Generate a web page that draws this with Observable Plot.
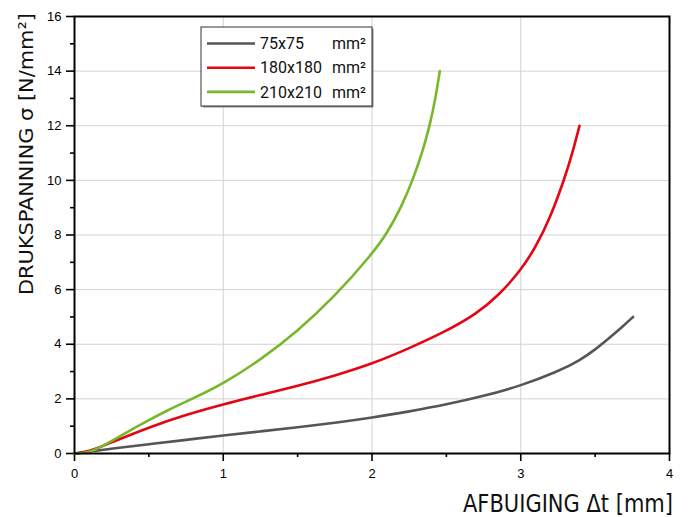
<!DOCTYPE html>
<html>
<head>
<meta charset="utf-8">
<script src="https://cdn.jsdelivr.net/npm/d3@7"></script>
<script src="https://cdn.jsdelivr.net/npm/@observablehq/plot@0.6"></script>
<style>
  html, body { margin: 0; padding: 0; background: white; }
</style>
</head>
<body>
<div id="chart"></div>
<script>
// ---- data ----
const seriesNames = ["75x75", "180x180", "210x210"];
const seriesColors = ["#555555", "#e30613", "#76b82a"];

const grayX = [0, 0.134, 0.25, 0.5, 0.75, 1, 1.25, 1.5, 1.75, 2, 2.25, 2.5, 2.75, 3, 3.25, 3.4, 3.5, 3.6, 3.68, 3.755];
const grayY = [0, 0.09, 0.18, 0.34, 0.5, 0.66, 0.81, 0.96, 1.12, 1.31, 1.54, 1.79, 2.1, 2.48, 3.0, 3.42, 3.8, 4.25, 4.62, 5.0];

const redX = [0, 0.06, 0.134, 0.25, 0.5, 0.75, 1, 1.25, 1.5, 1.75, 2, 2.25, 2.5, 2.7, 2.85, 3.0, 3.1, 3.2, 3.3, 3.35, 3.395];
const redY = [0, 0.04, 0.15, 0.41, 0.96, 1.42, 1.8, 2.14, 2.47, 2.85, 3.28, 3.85, 4.48, 5.1, 5.78, 6.7, 7.55, 8.65, 10.15, 11.05, 12.0];

const greenX = [0, 0.07, 0.13, 0.25, 0.375, 0.5, 0.625, 0.75, 0.875, 1, 1.25, 1.5, 1.75, 2, 2.1, 2.2, 2.28, 2.34, 2.39, 2.425, 2.456];
const greenY = [0, 0.015, 0.1, 0.45, 0.85, 1.22, 1.58, 1.9, 2.22, 2.56, 3.42, 4.48, 5.75, 7.3, 8.05, 9.05, 10.1, 11.05, 12.05, 12.95, 14.0];

const xTicks = [0, 1, 2, 3, 4];
const xMinorTicks = [0.5, 1.5, 2.5, 3.5];
const xGridTicks = [1, 2, 3];
const yTicks = [0, 2, 4, 6, 8, 10, 12, 14, 16];
const yMinorTicks = [1, 3, 5, 7, 9, 11, 13, 15];
const yGridTicks = [2, 4, 6, 8, 10, 12, 14];

const xTitle = "AFBUIGING Δt [mm]";
const yTitle = "DRUKSPANNING σ [N/mm²]";
const legendLabels = ["75x75", "180x180", "210x210"];
const legendUnit = "mm²";

// ---- build table ----
const seriesXs = [grayX, redX, greenX];
const seriesYs = [grayY, redY, greenY];
const rows = [];
seriesNames.forEach((name, i) => {
  seriesXs[i].forEach((x, j) => rows.push({series: name, x, y: seriesYs[i][j]}));
});

const W = 689, H = 517;
const mL = 74, mR = 20, mT = 16, mB = 64;

const chart = Plot.plot({
  width: W, height: H,
  marginLeft: mL, marginRight: mR, marginTop: mT, marginBottom: mB,
  style: {fontFamily: "'Liberation Sans', Arial, sans-serif", fontSize: "13px", color: "black", background: "white"},
  x: {domain: [0, 4]},
  y: {domain: [0, 16]},
  color: {domain: seriesNames, range: seriesColors},
  marks: [
    Plot.gridX(xGridTicks, {stroke: "#d2d2d2", strokeOpacity: 1, strokeWidth: 1}),
    Plot.gridY(yGridTicks, {stroke: "#d2d2d2", strokeOpacity: 1, strokeWidth: 1}),
    Plot.axisX({ticks: xMinorTicks, tickSize: 4, tickFormat: () => "", label: null, strokeWidth: 1.6}),
    Plot.axisX({ticks: xTicks, tickSize: 8, tickPadding: 7, label: null, strokeWidth: 1.6, tickFormat: d3.format("d")}),
    Plot.axisY({ticks: yMinorTicks, tickSize: 4, tickFormat: () => "", label: null, strokeWidth: 1.6}),
    Plot.axisY({ticks: yTicks, tickSize: 8, tickPadding: 5, label: null, strokeWidth: 1.6, tickFormat: d3.format("d")}),
    Plot.line(rows, {x: "x", y: "y", z: "series", stroke: "series", strokeWidth: 2.6, curve: "basis"}),
    Plot.frame({stroke: "black", strokeWidth: 2})
  ]
});

document.getElementById("chart").appendChild(chart);

// ---- axis titles and legend ----
const svg = d3.select(chart);
const condensed = "'DejaVu Sans Condensed', 'Liberation Sans Narrow', 'DejaVu Sans', sans-serif";

svg.append("text")
  .attr("x", W - 16).attr("y", H - 5)
  .attr("text-anchor", "end")
  .attr("font-family", condensed)
  .attr("font-stretch", "condensed")
  .attr("font-size", 24)
  .attr("fill", "#111")
  .attr("textLength", 210)
  .attr("lengthAdjust", "spacingAndGlyphs")
  .text(xTitle);

svg.append("text")
  .attr("transform", `translate(33, ${mT + 279}) rotate(-90)`)
  .attr("text-anchor", "start")
  .attr("font-family", condensed)
  .attr("font-stretch", "condensed")
  .attr("font-size", 20)
  .attr("fill", "#111")
  .attr("textLength", 282)
  .attr("lengthAdjust", "spacingAndGlyphs")
  .text(yTitle);

// legend inside the frame
const lg = svg.append("g").attr("transform", `translate(${mL + 127}, ${mT + 11})`);
lg.append("rect").attr("x", 1.5).attr("y", 1.5).attr("width", 171).attr("height", 79).attr("fill", "#888");
lg.append("rect").attr("x", 0).attr("y", 0).attr("width", 171).attr("height", 79)
  .attr("fill", "white").attr("stroke", "#333").attr("stroke-width", 1);
legendLabels.forEach((lab, i) => {
  const yy = 16.5 + i * 24.2;
  lg.append("line").attr("x1", 6).attr("x2", 54).attr("y1", yy).attr("y2", yy)
    .attr("stroke", seriesColors[i]).attr("stroke-width", 2.6);
  lg.append("text").attr("x", 59).attr("y", yy).attr("dy", "0.36em")
    .attr("text-anchor", "start")
    .attr("font-family", "Roboto, 'Open Sans', sans-serif").attr("font-size", 16).attr("fill", "#111")
    .text(lab);
  lg.append("text").attr("x", 131).attr("y", yy).attr("dy", "0.36em")
    .attr("text-anchor", "start")
    .attr("font-family", "Roboto, 'Open Sans', sans-serif").attr("font-size", 16).attr("fill", "#111")
    .text(legendUnit);
});
</script>
</body>
</html>
